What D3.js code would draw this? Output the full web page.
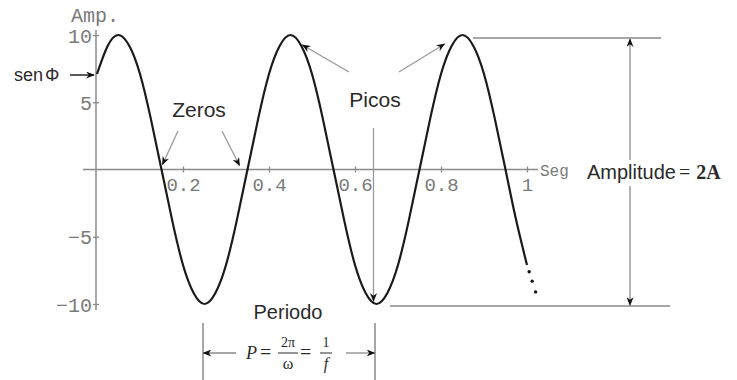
<!DOCTYPE html>
<html>
<head>
<meta charset="utf-8">
<script src="https://cdn.jsdelivr.net/npm/d3@7/dist/d3.min.js"></script>
<style>
  body { margin: 0; background: #fff; }
</style>
</head>
<body>
<div class="canvas"></div>
<script>
const dims = {width: 737, height: 380};

// wave, one sample every 0.025 s
const time = [0, 0.025, 0.05, 0.075, 0.1, 0.125, 0.15, 0.175, 0.2, 0.225,
  0.25, 0.275, 0.3, 0.325, 0.35, 0.375, 0.4, 0.425, 0.45, 0.475,
  0.5, 0.525, 0.55, 0.575, 0.6, 0.625, 0.65, 0.675, 0.7, 0.725,
  0.75, 0.775, 0.8, 0.825, 0.85, 0.875, 0.9, 0.925, 0.95, 0.975, 1];
const amp = [7.1, 9.2, 10, 9.2, 7.1, 3.8, 0, -3.8, -7.1, -9.2,
  -10, -9.2, -7.1, -3.8, 0, 3.8, 7.1, 9.2, 10, 9.2,
  7.1, 3.8, 0, -3.8, -7.1, -9.2, -10, -9.2, -7.1, -3.8,
  0, 3.8, 7.1, 9.2, 10, 9.2, 7.1, 3.8, 0, -3.8, -7.1];

// the dotted "..." tail after the last sample
const tailTime = [1.005, 1.012, 1.02];
const tailAmp = [-7.6, -8.3, -9.1];

const xTicks = [0.2, 0.4, 0.6, 0.8, 1];
const yTicks = [-10, -5, 5, 10];

// points the annotations refer to
const zeroTimes = [0.15, 0.35];
const peakTimes = [0.45, 0.85];
const troughTimes = [0.25, 0.65];

const svg = d3.select('.canvas')
  .append('svg')
  .attr('width', dims.width)
  .attr('height', dims.height);

const x = d3.scaleLinear().domain([0, 1]).range([97, 527]);
const y = d3.scaleLinear().domain([-10, 10]).range([304, 35]);

const axisGrey = '#8a8a8a';
const labelGrey = '#7a7a7a';
const sans = '"Liberation Sans", Arial, sans-serif';
const mono = '"Liberation Mono", "Courier New", monospace';
const serif = '"Liberation Serif", "Times New Roman", serif';

// arrowhead
svg.append('defs').append('marker')
  .attr('id', 'head')
  .attr('viewBox', '0 -4 10 8')
  .attr('refX', 9).attr('refY', 0)
  .attr('markerWidth', 9).attr('markerHeight', 7)
  .attr('markerUnits', 'userSpaceOnUse')
  .attr('orient', 'auto')
  .append('path')
    .attr('d', 'M0,-4L10,0L0,4L3,0Z')
    .attr('fill', '#111');

// x axis
svg.append('line')
  .attr('x1', 83).attr('x2', 538)
  .attr('y1', y(0)).attr('y2', y(0))
  .attr('stroke', axisGrey).attr('stroke-width', 1.5);

const xAxis = svg.append('g')
  .attr('transform', `translate(0, ${y(0)})`)
  .call(d3.axisBottom(x).tickValues(xTicks).tickSize(3).tickFormat(d3.format('')));
xAxis.select('.domain').remove();
xAxis.selectAll('.tick line').attr('y1', -3).attr('stroke', axisGrey).attr('stroke-width', 1.3);
xAxis.selectAll('.tick text')
  .attr('y', 21).attr('dy', 0)
  .attr('fill', labelGrey)
  .style('font-family', mono).style('font-size', '19px');

// y axis
svg.append('line')
  .attr('x1', x(0) - 1).attr('x2', x(0) - 1)
  .attr('y1', 30).attr('y2', 310)
  .attr('stroke', axisGrey).attr('stroke-width', 1.5);

const yAxis = svg.append('g')
  .attr('transform', `translate(${x(0) - 1}, 0)`)
  .call(d3.axisLeft(y).tickValues(yTicks).tickSize(3));
yAxis.select('.domain').remove();
yAxis.selectAll('.tick line').attr('x1', 3).attr('stroke', axisGrey).attr('stroke-width', 1.3);
yAxis.selectAll('.tick text')
  .attr('x', -4).attr('dy', '0.35em')
  .attr('fill', labelGrey)
  .style('font-family', mono).style('font-size', '20px');

svg.append('text')
  .attr('x', 95).attr('y', 22)
  .attr('text-anchor', 'middle')
  .attr('fill', labelGrey)
  .style('font-family', mono).style('font-size', '20px')
  .text('Amp.');

svg.append('text')
  .attr('x', 540).attr('y', y(0) + 6)
  .attr('fill', labelGrey)
  .style('font-family', mono).style('font-size', '16px')
  .text('Seg');

// the wave
const line = d3.line()
  .x(d => x(d[0]))
  .y(d => y(d[1]))
  .curve(d3.curveNatural);

svg.append('path')
  .datum(time.map((t, i) => [t, amp[i]]))
  .attr('fill', 'none')
  .attr('stroke', '#1a1a1a')
  .attr('stroke-width', 2.2)
  .attr('d', line);

svg.selectAll('.tail')
  .data(tailTime.map((t, i) => [t, tailAmp[i]]))
  .enter()
  .append('circle')
    .classed('tail', true)
    .attr('cx', d => x(d[0]))
    .attr('cy', d => y(d[1]))
    .attr('r', 1.7)
    .attr('fill', '#111');

// annotation helpers
const arrow = (x1, y1, x2, y2, color = '#999') => svg.append('path')
  .attr('d', `M${x1},${y1}L${x2},${y2}`)
  .attr('fill', 'none')
  .attr('stroke', color).attr('stroke-width', 1.3)
  .attr('marker-end', 'url(#head)');

const label = (txt, lx, ly, size = 20, anchor = 'middle', font = sans) => svg.append('text')
  .attr('x', lx).attr('y', ly)
  .attr('text-anchor', anchor)
  .attr('fill', '#2a2a2a')
  .style('font-family', font)
  .style('font-size', size + 'px')
  .text(txt);

// sen phi
const sen = label('sen', 14, 81, 18, 'start');
sen.append('tspan').attr('dx', 2).text('Φ');
const phiY = y(amp[0]) + 1;
arrow(70, phiY, 94, phiY, '#222').attr('stroke-width', 1.5);

// zeros
label('Zeros', 199, 117, 21);
arrow(178, 131, x(zeroTimes[0]) + 1, y(0) - 5);
arrow(222, 131, x(zeroTimes[1]) - 8, y(0) - 4);

// peaks
label('Picos', 375, 107, 21);
arrow(349, 72, x(peakTimes[0]) + 12, y(10) + 10);
arrow(399, 72, x(peakTimes[1]) - 18, y(10) + 9);
arrow(x(troughTimes[1]) - 3, 128, x(troughTimes[1]) - 3, y(-10) - 3);

// amplitude
svg.append('line')
  .attr('x1', 473).attr('x2', 661)
  .attr('y1', y(10) + 3).attr('y2', y(10) + 3)
  .attr('stroke', axisGrey).attr('stroke-width', 1.5);
svg.append('line')
  .attr('x1', 390).attr('x2', 670)
  .attr('y1', y(-10) + 2).attr('y2', y(-10) + 2)
  .attr('stroke', axisGrey).attr('stroke-width', 1.5);
arrow(630, 160, 630, y(10) + 4, axisGrey);
arrow(630, 186, 630, y(-10) + 1, axisGrey);

const ampl = label('Amplitude', 587, 179, 20, 'start');
ampl.append('tspan').attr('dx', 3).style('font-family', serif).text('=');
ampl.append('tspan').attr('dx', 6)
  .style('font-family', serif).style('font-weight', 'bold')
  .text('2A');

// period
label('Periodo', 288, 319, 20);
troughTimes.forEach(t => {
  svg.append('line')
    .attr('x1', x(t) - 1.5).attr('x2', x(t) - 1.5)
    .attr('y1', 323).attr('y2', 380)
    .attr('stroke', axisGrey).attr('stroke-width', 1.5);
});
arrow(236, 353, x(troughTimes[0]) - 1, 353, axisGrey);
arrow(346, 353, x(troughTimes[1]) - 2, 353, axisGrey);

// P = 2pi/omega = 1/f
label('P', 246, 359, 18, 'start', serif).style('font-style', 'italic');
label('=', 260, 359, 20, 'start', serif);
label('2π', 288, 347, 14, 'middle', serif);
label('ω', 288, 369, 16, 'middle', serif);
label('=', 300, 359, 20, 'start', serif);
label('1', 326, 347, 14, 'middle', serif);
label('f', 326, 369, 16, 'middle', serif).style('font-style', 'italic');
[[278, 298], [320, 332]].forEach(([a, b]) => {
  svg.append('line')
    .attr('x1', a).attr('x2', b).attr('y1', 353).attr('y2', 353)
    .attr('stroke', '#2a2a2a').attr('stroke-width', 1);
});
</script>
</body>
</html>
